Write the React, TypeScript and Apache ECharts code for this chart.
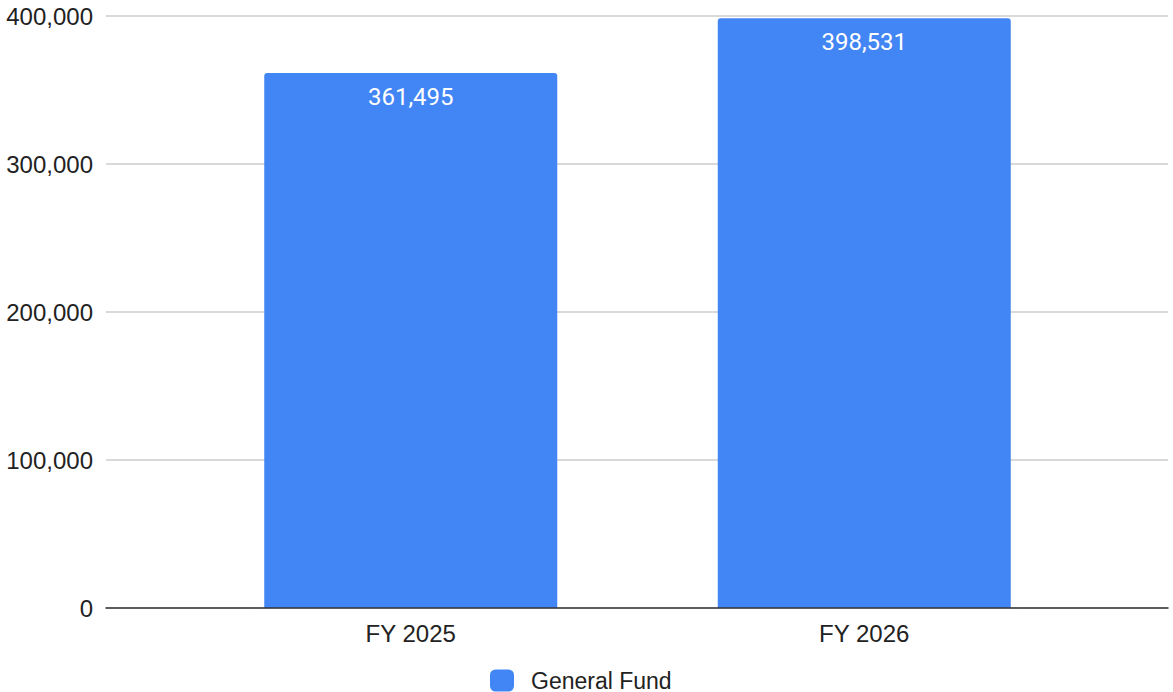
import React, { useEffect, useRef } from "react";
import * as echarts from "echarts";

const categories = ["FY 2025", "FY 2026"];
const generalFund = [361495, 398531];
const yTicks = [0, 100000, 200000, 300000, 400000];
const seriesName = "General Fund";

const fmt = (v: number) => v.toLocaleString("en-US");

export default function App() {
  const ref = useRef<HTMLDivElement>(null);
  useEffect(() => {
    if (!ref.current) return;
    const chart = echarts.init(ref.current, undefined, { renderer: "svg" });
    const yMax = yTicks[yTicks.length - 1];
    const interval = yTicks[1] - yTicks[0];
    chart.setOption({
      animation: false,
      textStyle: { fontFamily: "Liberation Sans, Arial, sans-serif" },
      legend: {
        show: true,
        data: [seriesName],
        left: 490,
        top: 669,
        padding: 0,
        itemWidth: 24,
        itemHeight: 22,
        icon: "roundRect",
        textStyle: {
          fontSize: 23,
          color: "#222222",
          padding: [0, 0, 0, 12],
          lineHeight: 20,
          fontFamily: "Liberation Sans, Arial, sans-serif",
        },
      },
      grid: [
        { left: 106, right: 5, top: 16, bottom: 84, containLabel: false },
        { left: 184, right: 82, top: 16, bottom: 84, containLabel: false },
      ],
      xAxis: [
        {
          gridIndex: 0,
          type: "category",
          data: categories,
          axisLine: { show: true, lineStyle: { color: "#333333", width: 1.5 } },
          axisTick: { show: false },
          axisLabel: { show: false },
          z: 10,
        },
        {
          gridIndex: 1,
          type: "category",
          data: categories,
          axisLine: { show: false },
          axisTick: { show: false },
          axisLabel: { fontSize: 24, color: "#222222", margin: 13 },
        },
      ],
      yAxis: [
        {
          gridIndex: 0,
          type: "value",
          min: 0,
          max: yMax,
          interval,
          axisLine: { show: false },
          axisTick: { show: false },
          axisLabel: { fontSize: 24, color: "#222222", margin: 13, formatter: (v: number) => fmt(v) },
          splitLine: { lineStyle: { color: "#cccccc", width: 1.5 } },
        },
        {
          gridIndex: 1,
          type: "value",
          min: 0,
          max: yMax,
          interval,
          show: false,
          splitLine: { show: false },
        },
      ],
      series: [
        {
          name: seriesName,
          type: "bar",
          xAxisIndex: 1,
          yAxisIndex: 1,
          data: generalFund,
          barWidth: 293,
          itemStyle: { color: "#4285f4", borderRadius: [3, 3, 0, 0] },
          label: {
            show: true,
            position: "insideTop",
            distance: 12,
            color: "#ffffff",
            fontSize: 24,
            fontFamily: "Roboto, sans-serif",
            formatter: (p: any) => fmt(p.value),
          },
          z: 5,
        },
      ],
    });
    return () => chart.dispose();
  }, []);
  return <div ref={ref} style={{ width: 1173, height: 692, position: "absolute", left: 0, top: 0 }} />;
}
